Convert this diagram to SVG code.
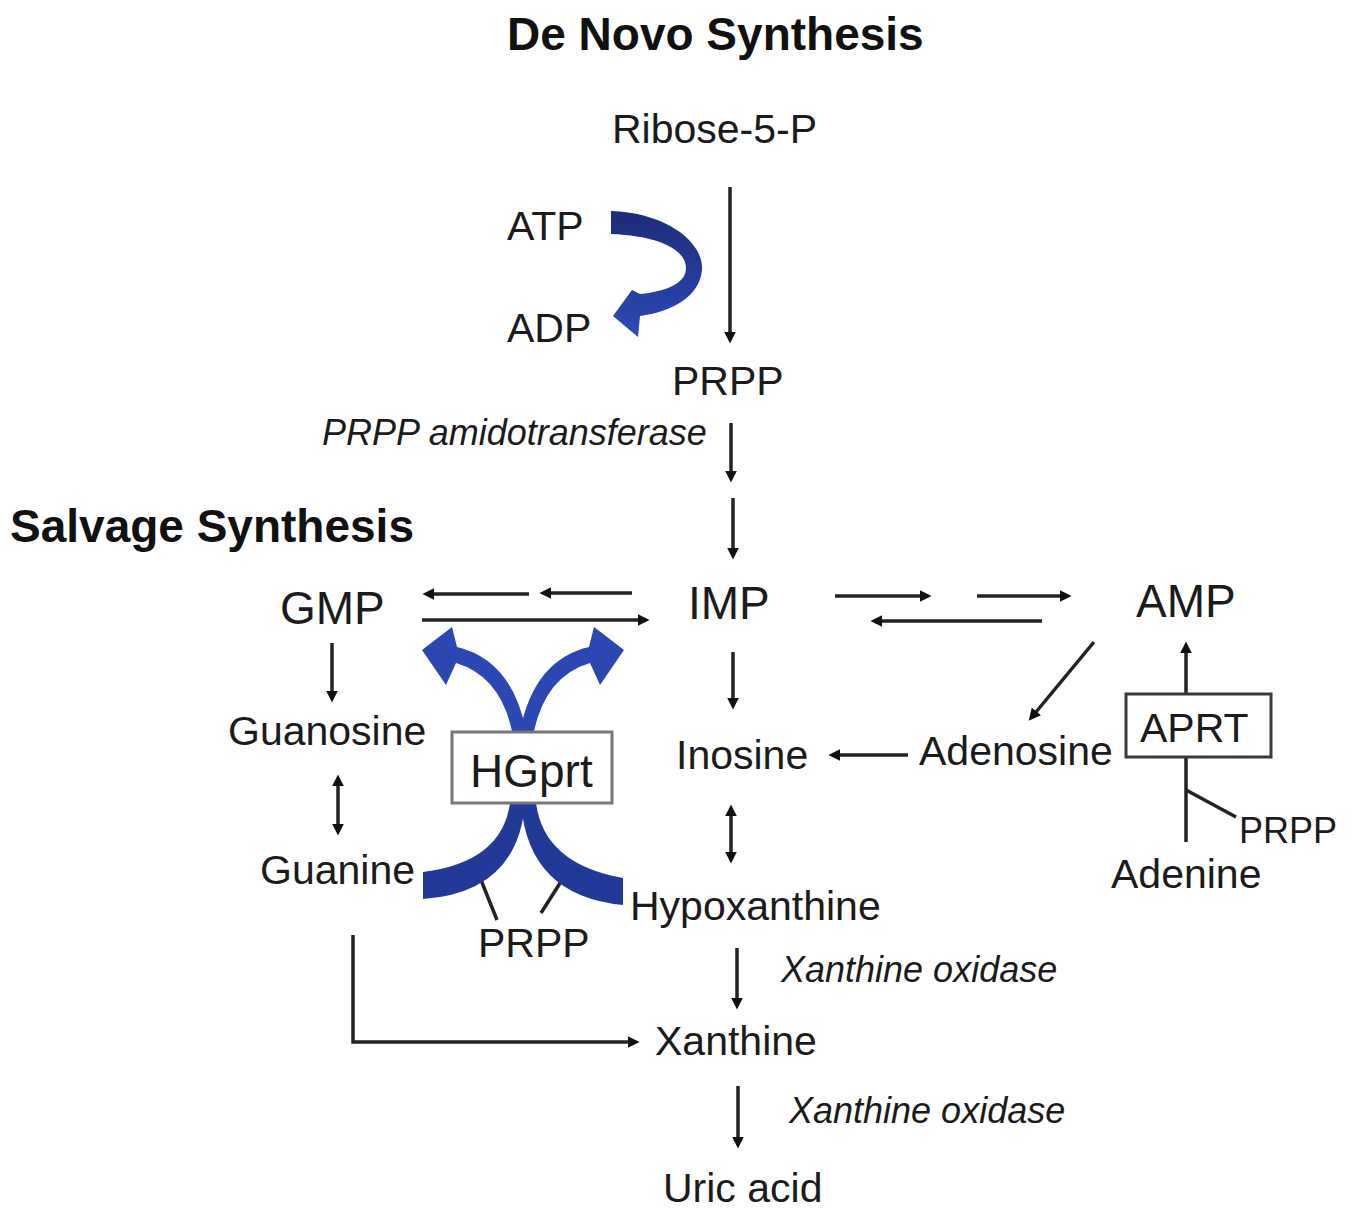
<svg xmlns="http://www.w3.org/2000/svg" width="1352" height="1215" viewBox="0 0 1352 1215">
<defs>
<style>
text{font-family:"Liberation Sans",Arial,sans-serif;fill:#1b1b1b}
.h{font-weight:bold;font-size:46px;fill:#111}
.n{font-size:41px}
.b{font-size:46px}
.i{font-style:italic;font-size:36px}
.s{font-size:36px}
.c{stroke:#222;stroke-width:3.5;fill:none}
.a{marker-end:url(#ah)}
.d{marker-end:url(#ah);marker-start:url(#ah)}
.box{fill:#fff;stroke-width:3}
</style>
<marker id="ah" viewBox="0 0 10 10" refX="7" refY="5" markerWidth="12" markerHeight="12" markerUnits="userSpaceOnUse" orient="auto-start-reverse">
<path d="M0,0 L10,5 L0,10 Z" fill="#111"/>
</marker>
<linearGradient id="gb" x1="0" y1="0" x2="0" y2="1">
<stop offset="0" stop-color="#1c2c78"/>
<stop offset="1" stop-color="#2c4bb8"/>
</linearGradient>
</defs>
<rect width="1352" height="1215" fill="#fff"/>

<g id="titles">
<text class="h" x="507" y="50">De Novo Synthesis</text>
<text class="h" x="10" y="542">Salvage Synthesis</text>
</g>

<g id="connectors">
<line class="c a" x1="730" y1="187" x2="730" y2="340"/>
<line class="c a" x1="731" y1="423" x2="731" y2="479"/>
<line class="c a" x1="733" y1="498" x2="733" y2="556"/>
<line class="c a" x1="529" y1="594" x2="426" y2="594"/>
<line class="c a" x1="632" y1="593" x2="543" y2="593"/>
<line class="c a" x1="422" y1="620" x2="646" y2="620"/>
<line class="c a" x1="835" y1="596" x2="928" y2="596"/>
<line class="c a" x1="977" y1="596" x2="1068" y2="596"/>
<line class="c a" x1="1042" y1="621" x2="874" y2="621"/>
<line class="c a" x1="1094" y1="642" x2="1031" y2="718"/>
<line class="c a" x1="1186" y1="694" x2="1186" y2="645"/>
<line class="c" x1="1186" y1="758" x2="1186" y2="842"/>
<line class="c" x1="1186" y1="790" x2="1236" y2="817"/>
<line class="c a" x1="908" y1="755" x2="832" y2="755"/>
<line class="c a" x1="733" y1="652" x2="733" y2="706"/>
<line class="c d" x1="731" y1="808" x2="731" y2="860"/>
<line class="c a" x1="332" y1="643" x2="332" y2="699"/>
<line class="c d" x1="338" y1="778" x2="338" y2="832"/>
<line class="c a" x1="737" y1="948" x2="737" y2="1006"/>
<line class="c a" x1="738" y1="1086" x2="738" y2="1145"/>
<polyline class="c a" points="353,935 353,1042 636,1042"/>
<line class="c" x1="481" y1="880" x2="497" y2="920"/>
<line class="c" x1="562" y1="880" x2="541" y2="913"/>
</g>

<g id="atp-adp-arrow">
<path fill="url(#gb)" d="M611,211 C668,213 704,243 702,270 C700,296 672,312 640,316 L638,337 L613,316 L632,290 L640,294 C668,291 686,283 686,268 C686,250 660,236 611,234 Z"/>
</g>

<g id="hgprt-arrows">
<path fill="#2a47b2" d="M512,731 Q500,676 456,663 L446,685 L422,650 L452,627 L457,647 Q512,660 526,731 Z"/>
<path fill="#2a47b2" d="M534,731 Q546,676 590,663 L600,685 L624,650 L594,627 L589,647 Q534,660 520,731 Z"/>
<path fill="#213a98" d="M510,803 Q502,862 423,872 L423,899 Q518,892 525,803 Z"/>
<path fill="#213a98" d="M536,803 Q544,864 623,878 L623,905 Q528,896 521,803 Z"/>
</g>

<g id="n-ribose"><text class="n" x="612" y="143">Ribose-5-P</text></g>
<g id="n-atp"><text class="n" x="507" y="240">ATP</text></g>
<g id="n-adp"><text class="n" x="507" y="342">ADP</text></g>
<g id="n-prpp"><text class="n" x="672" y="395">PRPP</text></g>
<g id="e-amido"><text class="i" x="322" y="445">PRPP amidotransferase</text></g>
<g id="n-gmp"><text class="b" x="280" y="624">GMP</text></g>
<g id="n-imp"><text class="b" x="688" y="619">IMP</text></g>
<g id="n-amp"><text class="b" x="1136" y="617">AMP</text></g>
<g id="n-guanosine"><text class="n" x="228" y="745">Guanosine</text></g>
<g id="n-guanine"><text class="n" x="260" y="884">Guanine</text></g>
<g id="n-hgprt">
<rect class="box" x="452" y="732" width="160" height="71" stroke="#777"/>
<text class="b" x="470" y="787">HGprt</text>
</g>
<g id="n-prpp2"><text class="n" x="478" y="957">PRPP</text></g>
<g id="n-inosine"><text class="n" x="676" y="769">Inosine</text></g>
<g id="n-adenosine"><text class="n" x="919" y="765">Adenosine</text></g>
<g id="n-aprt">
<rect class="box" x="1126" y="694" width="145" height="63" stroke="#3a3a3a"/>
<text class="n" x="1140" y="742">APRT</text>
</g>
<g id="n-prpp3"><text class="s" x="1239" y="843">PRPP</text></g>
<g id="n-adenine"><text class="n" x="1111" y="888">Adenine</text></g>
<g id="n-hypoxanthine"><text class="n" x="630" y="920">Hypoxanthine</text></g>
<g id="e-xo1"><text class="i" x="781" y="982">Xanthine oxidase</text></g>
<g id="n-xanthine"><text class="n" x="655" y="1055">Xanthine</text></g>
<g id="e-xo2"><text class="i" x="789" y="1123">Xanthine oxidase</text></g>
<g id="n-uric"><text class="n" x="663" y="1202">Uric acid</text></g>
</svg>
